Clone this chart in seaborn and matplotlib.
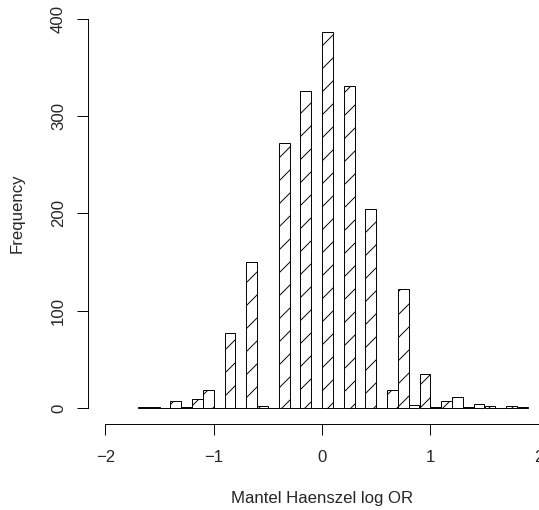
import numpy as np
import pandas as pd
import matplotlib
matplotlib.use("Agg")
import matplotlib.pyplot as plt
import seaborn as sns

# Histogram breaks (width 0.1) and the count in each bin
breaks = [round(-1.7 + 0.1 * i, 2) for i in range(37)]
counts = [1, 1, 0, 7, 1, 9, 18, 0, 77, 0, 150, 2, 0, 272, 0, 326, 0, 386,
          0, 331, 0, 204, 0, 18, 122, 3, 35, 1, 7, 11, 1, 4, 2, 0, 2, 1]
x_ticks = [-2, -1, 0, 1, 2]
y_ticks = [0, 100, 200, 300, 400]
x_label = "Mantel Haenszel log OR"
y_label = "Frequency"

DPI = 69
FS = 17.5

sns.set_style("ticks")
plt.rcParams["font.family"] = ["Liberation Sans", "DejaVu Sans"]
plt.rcParams["hatch.linewidth"] = 1.0
plt.rcParams["hatch.color"] = "black"

fig = plt.figure(figsize=(539 / DPI, 510 / DPI), dpi=DPI)
fig.patch.set_facecolor("white")
ax = fig.add_axes([88 / 539, 86.5 / 510, 468 / 539, 420.3 / 510])
ax.set_facecolor("white")

edges = np.array(breaks)
df = pd.DataFrame({"logor": (edges[:-1] + edges[1:]) / 2, "n": counts})
sns.histplot(data=df, x="logor", weights="n", bins=breaks, ax=ax, stat="count",
             element="bars", fill=True, color="white", edgecolor="black",
             linewidth=1.0, alpha=1, hatch="/")

ax.set_xlim(-2.16, 2.16)
ax.set_ylim(-16, 416)
for side in ("top", "right"):
    ax.spines[side].set_visible(False)
ax.spines["left"].set_bounds(0, 400)
ax.spines["bottom"].set_bounds(-2, 2)
for side in ("left", "bottom"):
    ax.spines[side].set_linewidth(1.0)
    ax.spines[side].set_color("black")

ax.set_xticks(x_ticks)
ax.set_xticklabels(["\u22122", "\u22121", "0", "1", "2"], fontsize=FS)
ax.set_yticks(y_ticks)
ax.set_yticklabels([str(v) for v in y_ticks], fontsize=FS, rotation=90, va="center")
ax.tick_params(direction="out", length=11, width=1.0, color="black")
ax.tick_params(axis="x", pad=17)
ax.tick_params(axis="y", pad=12)

ax.set_xlabel(x_label, fontsize=FS, labelpad=27)
ax.set_ylabel(y_label, fontsize=FS, labelpad=27)

fig.savefig("out.png", dpi=DPI, facecolor="white")
